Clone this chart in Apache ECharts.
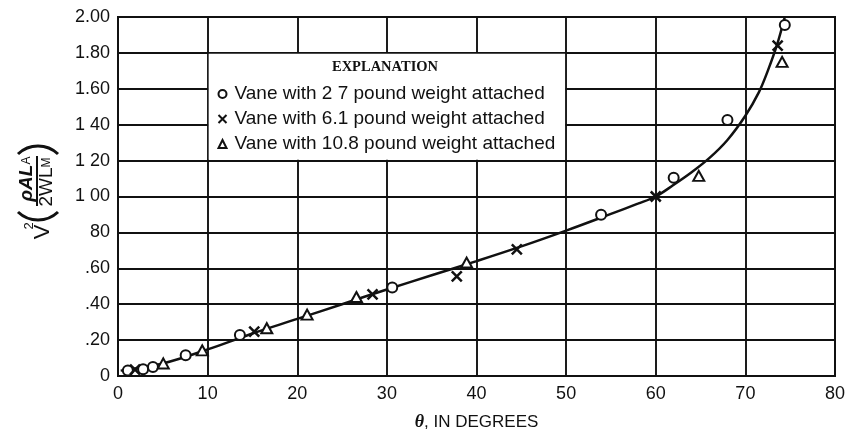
<!DOCTYPE html>
<html>
<head>
<meta charset="utf-8">
<script src="https://cdn.jsdelivr.net/npm/echarts@6/dist/echarts.min.js"></script>
<style>
  html, body { margin: 0; padding: 0; background: #fff; }
  #chart { width: 845px; height: 432px; }
</style>
</head>
<body>
<div id="chart"></div>
<script>
// Vane deflection angle (degrees) vs. dimensionless velocity parameter
const circleTheta = [1.1, 2.8, 3.9, 7.55, 13.6, 30.6, 53.9, 62.0, 68.0, 74.4];
const circleValue = [0.03, 0.037, 0.05, 0.115, 0.228, 0.493, 0.898, 1.105, 1.426, 1.955];

const crossTheta = [1.9, 15.2, 28.4, 37.8, 44.5, 60.0, 73.6];
const crossValue = [0.035, 0.247, 0.455, 0.555, 0.705, 1.00, 1.84];

const triTheta = [5.05, 9.4, 16.6, 21.1, 26.6, 38.9, 64.8, 74.1];
const triValue = [0.07, 0.143, 0.266, 0.342, 0.44, 0.632, 1.115, 1.75];

// Faired curve through the observations
const curveTheta = [0.3, 5, 10, 15, 20, 25, 30, 35, 40, 45, 50, 55, 58, 60, 62, 64, 66, 68, 70, 71.5, 72.5, 73.5, 74.4];
const curveValue = [0.03, 0.07, 0.148, 0.237, 0.318, 0.40, 0.482, 0.561, 0.64, 0.722, 0.81, 0.903, 0.96, 1.00, 1.065, 1.135, 1.215, 1.315, 1.45, 1.58, 1.70, 1.84, 2.00];

const seriesNames = [
  'Vane with 2 7 pound weight attached',
  'Vane with 6.1 pound weight attached',
  'Vane with 10.8 pound weight attached'
];
const yTickLabels = ['0', '.20', '.40', '.60', '80', '1 00', '1 20', '1 40', '1.60', '1.80', '2.00'];
const xTickLabels = ['0', '10', '20', '30', '40', '50', '60', '70', '80'];

const SANS = "'Liberation Sans', Arial, sans-serif";
const INK = '#111';

const zip = (xs, ys) => xs.map((x, i) => [x, ys[i]]);

const chart = echarts.init(document.getElementById('chart'), null, { renderer: 'canvas' });

const crossPath = 'path://M0,0L10,10M10,0L0,10';

chart.setOption({
  animation: false,
  backgroundColor: '#fff',
  grid: {
    left: 118, top: 17, right: 10, bottom: 56,
    outerBoundsMode: 'none', containLabel: false,
    show: true, borderColor: INK, borderWidth: 2, backgroundColor: 'transparent'
  },
  xAxis: {
    type: 'value', min: 0, max: 80, interval: 10,
    axisLine: { show: true, lineStyle: { color: INK, width: 2 } },
    axisTick: { show: false },
    splitLine: { show: true, lineStyle: { color: INK, width: 1.9 } },
    axisLabel: {
      color: INK, fontFamily: SANS, fontSize: 18, margin: 9,
      formatter: v => xTickLabels[Math.round(v / 10)]
    },
    name: '{t|θ}, IN DEGREES',
    nameLocation: 'middle',
    nameGap: 37,
    nameTextStyle: {
      color: INK, fontFamily: SANS, fontSize: 17,
      rich: { t: { fontFamily: "'Liberation Serif', serif", fontStyle: 'italic', fontWeight: 'bold', fontSize: 18, color: INK } }
    }
  },
  yAxis: {
    type: 'value', min: 0, max: 2, interval: 0.2,
    axisLine: { show: true, lineStyle: { color: INK, width: 2 } },
    axisTick: { show: false },
    splitLine: { show: true, lineStyle: { color: INK, width: 1.9 } },
    axisLabel: {
      color: INK, fontFamily: SANS, fontSize: 18, margin: 8,
      formatter: v => yTickLabels[Math.round(v / 0.2)]
    }
  },
  legend: {
    orient: 'vertical',
    left: 216, top: 84, padding: 0,
    itemWidth: 8, itemHeight: 8, itemGap: 5,
    textStyle: { color: INK, fontFamily: SANS, fontSize: 19, lineHeight: 20, padding: [0, 0, 0, 3] },
    data: seriesNames,
    selectedMode: false
  },
  graphic: [
    {
      type: 'text', x: 385, y: 67, z: 10,
      style: {
        text: 'EXPLANATION', fill: INK,
        font: "bold 14.5px 'Liberation Serif', 'Times New Roman', serif",
        align: 'center', verticalAlign: 'middle'
      }
    },
    {
      // rotated axis title: V²(ρAL_A / 2WL_M)
      type: 'group', x: 37, y: 240, rotation: Math.PI / 2,
      children: [
        { type: 'text', x: 8, y: 6,
          style: { text: 'V', fill: INK, font: "22px 'Liberation Sans', sans-serif", align: 'center', verticalAlign: 'middle' } },
        { type: 'text', x: 14, y: -8,
          style: { text: '2', fill: INK, font: "13px 'Liberation Sans', sans-serif", align: 'center', verticalAlign: 'middle' } },
        { type: 'arc', shape: { cx: 49, cy: 1, r: 29, startAngle: Math.PI - 0.761, endAngle: Math.PI + 0.761, clockwise: true },
          style: { stroke: INK, lineWidth: 3, fill: null } },
        { type: 'arc', shape: { cx: 65, cy: 1, r: 29, startAngle: -0.761, endAngle: 0.761, clockwise: true },
          style: { stroke: INK, lineWidth: 3, fill: null } },
        { type: 'line', shape: { x1: 34, y1: 0, x2: 84, y2: 0 }, style: { stroke: INK, lineWidth: 2 } },
        { type: 'text', x: 61, y: -10,
          style: {
            text: '{a|ρAL}{s|A}', align: 'center', verticalAlign: 'middle',
            rich: {
              a: { font: "italic bold 19px 'Liberation Sans', sans-serif", fill: INK },
              s: { font: "12px 'Liberation Sans', sans-serif", fill: INK }
            }
          } },
        { type: 'text', x: 58, y: 10,
          style: {
            text: '{a|2WL}{s|M}', align: 'center', verticalAlign: 'middle',
            rich: {
              a: { font: "19px 'Liberation Sans', sans-serif", fill: INK },
              s: { font: "12px 'Liberation Sans', sans-serif", fill: INK }
            }
          } }
      ]
    }
  ],
  series: [
    {
      name: 'curve', type: 'line', data: zip(curveTheta, curveValue),
      smooth: 0.35, showSymbol: false, symbol: 'none',
      lineStyle: { color: INK, width: 2.5 }, z: 3, silent: true,
      markArea: {
        silent: true,
        itemStyle: { color: '#fff', opacity: 1 },
        data: [[{ coord: [10.12, 1.795] }, { coord: [49.88, 1.205] }]]
      }
    },
    {
      name: seriesNames[0], type: 'scatter', data: zip(circleTheta, circleValue),
      symbol: 'circle', symbolSize: 10, z: 5,
      itemStyle: { color: '#fff', borderColor: INK, borderWidth: 2, opacity: 1 }
    },
    {
      name: seriesNames[1], type: 'scatter', data: zip(crossTheta, crossValue),
      symbol: crossPath, symbolSize: 10, z: 5,
      itemStyle: { color: 'none', borderColor: INK, borderWidth: 2.5, opacity: 1 }
    },
    {
      name: seriesNames[2], type: 'scatter', data: zip(triTheta, triValue),
      symbol: 'triangle', symbolSize: [11, 10], z: 5,
      itemStyle: { color: '#fff', borderColor: INK, borderWidth: 2, opacity: 1 }
    }
  ]
});
</script>
</body>
</html>
